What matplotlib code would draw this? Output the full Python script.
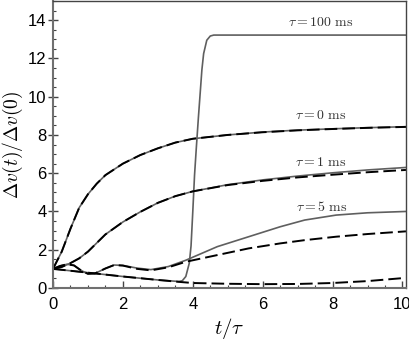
import numpy as np
import matplotlib
matplotlib.use("Agg")
import matplotlib.pyplot as plt
from matplotlib.ticker import MultipleLocator

plt.rcParams['mathtext.fontset'] = 'cm'
plt.rcParams['font.family'] = ['Liberation Sans', 'DejaVu Sans']

# tau = 0 ms
t_tau0 = [0, 0.25, 0.5, 0.75, 1.0, 1.25, 1.5, 2.0, 2.5, 3.0, 3.5, 4.0, 5.0, 6.0, 7.0, 8.0, 9.0, 10.1]
v_tau0_solid = [1.0, 1.9, 3.1, 4.2, 4.9, 5.45, 5.9, 6.5, 6.95, 7.3, 7.6, 7.8, 8.0, 8.15, 8.25, 8.32, 8.38, 8.43]
v_tau0_dash = [1.0, 1.9, 3.1, 4.2, 4.9, 5.45, 5.9, 6.5, 6.95, 7.3, 7.6, 7.8, 8.0, 8.14, 8.24, 8.31, 8.37, 8.42]

# tau = 1 ms
t_tau1 = [0, 0.25, 0.5, 0.75, 1.0, 1.5, 2.0, 2.5, 3.0, 3.5, 4.0, 5.0, 6.0, 7.0, 8.0, 9.0, 10.1]
v_tau1_solid = [1.0, 1.1, 1.3, 1.55, 1.9, 2.8, 3.45, 3.98, 4.45, 4.8, 5.05, 5.4, 5.65, 5.85, 6.02, 6.17, 6.3]
v_tau1_dash = [1.0, 1.1, 1.3, 1.55, 1.9, 2.8, 3.45, 3.98, 4.45, 4.8, 5.05, 5.38, 5.6, 5.78, 5.92, 6.05, 6.17]

# tau = 5 ms
t_tau5 = [0, 0.2, 0.4, 0.6, 0.8, 1.0, 1.2, 1.5, 1.75, 2.0, 2.4, 2.8, 3.3, 3.8, 4.7, 5.6, 6.5, 7.2, 8.1, 9.0, 10.1]
v_tau5_solid = [1.0, 1.15, 1.24, 1.18, 0.92, 0.74, 0.76, 1.02, 1.2, 1.18, 1.04, 0.96, 1.12, 1.45, 2.16, 2.68, 3.2, 3.55, 3.81, 3.93, 4.0]
v_tau5_dash = [1.0, 1.15, 1.24, 1.18, 0.92, 0.74, 0.76, 1.02, 1.2, 1.17, 1.0, 0.92, 1.08, 1.37, 1.72, 2.07, 2.33, 2.5, 2.68, 2.82, 2.96]

# tau = 100 ms
t_tau100_solid = [0, 1.0, 2.0, 3.0, 3.6, 3.7, 3.8, 3.9, 3.95, 4.0, 4.05, 4.1, 4.16, 4.26, 4.31, 4.4, 4.5, 4.6, 5.0, 10.1]
v_tau100_solid = [1.0, 0.8, 0.6, 0.42, 0.34, 0.38, 0.6, 1.3, 2.2, 4.0, 5.9, 7.3, 8.9, 11.4, 12.25, 12.95, 13.17, 13.22, 13.22, 13.22]
t_tau100_dash = [0, 1.0, 2.0, 3.0, 3.6, 4.0, 5.0, 6.0, 7.0, 8.0, 9.0, 10.1]
v_tau100_dash = [1.0, 0.8, 0.6, 0.42, 0.32, 0.26, 0.22, 0.2, 0.21, 0.26, 0.36, 0.53]

labels = [r"$\tau = 100\ \mathrm{ms}$", r"$\tau = 0\ \mathrm{ms}$",
          r"$\tau = 1\ \mathrm{ms}$", r"$\tau = 5\ \mathrm{ms}$"]
label_x = [7.65, 7.65, 7.65, 7.7]
label_y = [13.9, 9.03, 6.58, 4.23]

fig = plt.figure(figsize=(4.09, 3.4), dpi=100)
ax = fig.add_axes([0.1296, 0.153, 0.863, 0.844])

solid = dict(color='#5f5f5f', lw=1.2)
dash = dict(color='black', lw=1.4, linestyle=(0, (6.5, 2.6)))

ax.plot(t_tau100_solid, v_tau100_solid, **solid)
ax.plot(t_tau0, v_tau0_solid, **solid)
ax.plot(t_tau1, v_tau1_solid, **solid)
ax.plot(t_tau5, v_tau5_solid, **solid)

ax.plot(t_tau100_dash, v_tau100_dash, **dash)
ax.plot(t_tau0, v_tau0_dash, **dash)
ax.plot(t_tau1, v_tau1_dash, **dash)
ax.plot(t_tau5, v_tau5_dash, **dash)

for x, y, s in zip(label_x, label_y, labels):
    ax.text(x, y, s, fontsize=10, ha='center', va='center', color='#333333')

ax.set_xlim(0, 10.1)
ax.set_ylim(0, 15)
ax.xaxis.set_major_locator(MultipleLocator(2))
ax.xaxis.set_minor_locator(MultipleLocator(0.5))
ax.yaxis.set_major_locator(MultipleLocator(2))
ax.yaxis.set_minor_locator(MultipleLocator(0.5))

ax.tick_params(axis='x', which='major', direction='in', length=5, width=1, pad=6.5, labelsize=12, color='#444444')
ax.tick_params(axis='x', which='minor', direction='in', length=2.5, width=0.8, color='#444444')
ax.tick_params(axis='y', which='major', direction='inout', length=6.5, width=1, pad=1.5, labelsize=12, color='#444444')
ax.tick_params(axis='y', which='minor', direction='in', length=2.5, width=0.8, color='#444444')

for side in ['left', 'bottom']:
    ax.spines[side].set_color('#707070')
    ax.spines[side].set_linewidth(1.5)
for side in ['top', 'right']:
    ax.spines[side].set_color('#444444')
    ax.spines[side].set_linewidth(1.0)

ax.set_xlabel(r"$t/\tau$", fontsize=15)
ax.set_ylabel(r"$\Delta v(t)/\Delta v(0)$", fontsize=14)
ax.xaxis.set_label_coords(0.5, -0.098)
ax.yaxis.set_label_coords(-0.078, 0.5)

fig.savefig("out.png", dpi=100)
